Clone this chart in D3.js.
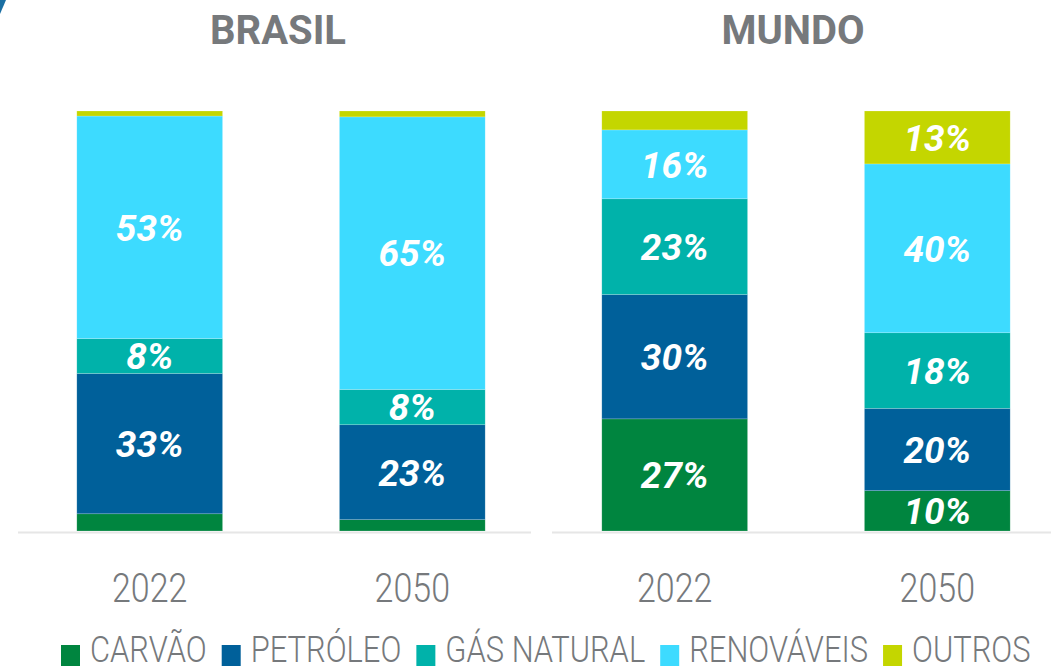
<!DOCTYPE html>
<html><head><meta charset="utf-8">
<script src="https://cdn.jsdelivr.net/npm/d3@7"></script>
<style>body{margin:0;background:#fff}svg{display:block}</style>
</head><body><svg id="c" width="1051" height="666"></svg>
<script>
// ---- data ----
const panels = ["BRASIL", "MUNDO"];
const years = ["2022", "2050"];
const sources = ["CARVÃO", "PETRÓLEO", "GÁS NATURAL", "RENOVÁVEIS", "OUTROS"];
const colors = ["#00853f", "#00609a", "#00b2aa", "#3ddbff", "#c4d600"];
const brasil2022 = [4.1, 33.4, 8.3, 53.0, 1.2];
const brasil2050 = [2.7, 22.6, 8.4, 64.9, 1.4];
const mundo2022 = [26.7, 29.6, 22.8, 16.4, 4.5];
const mundo2050 = [9.6, 19.6, 18.0, 40.2, 12.6];

const seriesByPanel = {
  BRASIL: {"2022": brasil2022, "2050": brasil2050},
  MUNDO: {"2022": mundo2022, "2050": mundo2050}
};

// ---- layout ----
const svg = d3.select("#c");
const gray = "#76797c";
const panelOffset = {BRASIL: 18, MUNDO: 543};
const titleX = {BRASIL: 278, MUNDO: 793};
const axisExtent = {BRASIL: [18, 531], MUNDO: [552, 1051]};

const y = d3.scaleLinear().domain([0, 100]).range([531, 111]);
const xBand = d3.scaleBand().domain(years).range([0, 526]).paddingInner(0.445).paddingOuter(0.224);
const color = d3.scaleOrdinal().domain(sources).range(colors);
const stack = d3.stack().keys(sources);

// decoration top-left
svg.append("path").attr("d", "M0,0 L6,0 Q3,7 0,14 Z").attr("fill", "#1a6fa3");

panels.forEach(p => {
  const g = svg.append("g").attr("transform", `translate(${panelOffset[p]},0)`);
  const rows = years.map(yr => {
    const o = {year: yr};
    sources.forEach((s, i) => o[s] = seriesByPanel[p][yr][i]);
    return o;
  });
  const stacked = stack(rows);

  // axis baseline
  svg.append("line")
    .attr("x1", axisExtent[p][0]).attr("x2", axisExtent[p][1])
    .attr("y1", 532.5).attr("y2", 532.5)
    .attr("stroke", "#e6e6e6").attr("stroke-width", 2);

  const layer = g.selectAll("g.layer").data(stacked).join("g")
    .attr("fill", d => color(d.key));
  layer.selectAll("rect").data(d => d).join("rect")
    .attr("x", d => xBand(d.data.year))
    .attr("width", xBand.bandwidth())
    .attr("y", d => y(d[1]))
    .attr("height", d => y(d[0]) - y(d[1]))
    .attr("stroke", "rgba(255,255,255,0.3)").attr("stroke-width", 0.6);

  // value labels
  stacked.forEach(s => {
    s.forEach(d => {
      const v = d[1] - d[0];
      if (v < 5) return;
      g.append("text")
        .attr("x", xBand(d.data.year) + xBand.bandwidth() / 2)
        .attr("y", (y(d[0]) + y(d[1])) / 2)
        .attr("dy", "0.36em")
        .attr("text-anchor", "middle")
        .attr("fill", "#fff")
        .style("font-family", "Roboto, sans-serif")
        .style("font-weight", 700).style("font-style", "italic")
        .style("font-size", "37px")
        .text(Math.round(v) + "%");
    });
  });

  // year axis labels
  const xAxis = d3.axisBottom(xBand).tickSize(0).tickPadding(0);
  const ax = g.append("g").attr("transform", "translate(0,602)").call(xAxis);
  ax.select(".domain").remove();
  ax.selectAll("text")
    .attr("y", 0).attr("dy", 0)
    .attr("fill", gray)
    .attr("transform", "scale(0.85,1)")
    .style("font-family", "Roboto, sans-serif")
    .style("font-weight", 300).style("font-size", "40px");

  // title
  svg.append("text")
    .attr("x", titleX[p]).attr("y", 44)
    .attr("text-anchor", "middle")
    .attr("fill", gray)
    .style("font-family", "Roboto, sans-serif")
    .style("font-weight", 700).style("font-size", "40px")
    .text(p);
});

// legend
const leg = svg.append("g");
let lx = 61;
const sx = 0.835;
sources.forEach(s => {
  leg.append("rect").attr("x", lx).attr("y", 645).attr("width", 19).attr("height", 21)
    .attr("fill", color(s));
  const tx = lx + 29;
  const t = leg.append("text")
    .attr("transform", `translate(${tx},662) scale(${sx},1)`)
    .attr("fill", gray)
    .style("font-family", "Roboto, sans-serif")
    .style("font-weight", 300).style("font-size", "37px")
    .text(s);
  const w = t.node().getComputedTextLength() * sx;
  lx = tx + w + 15;
});
</script></body></html>
